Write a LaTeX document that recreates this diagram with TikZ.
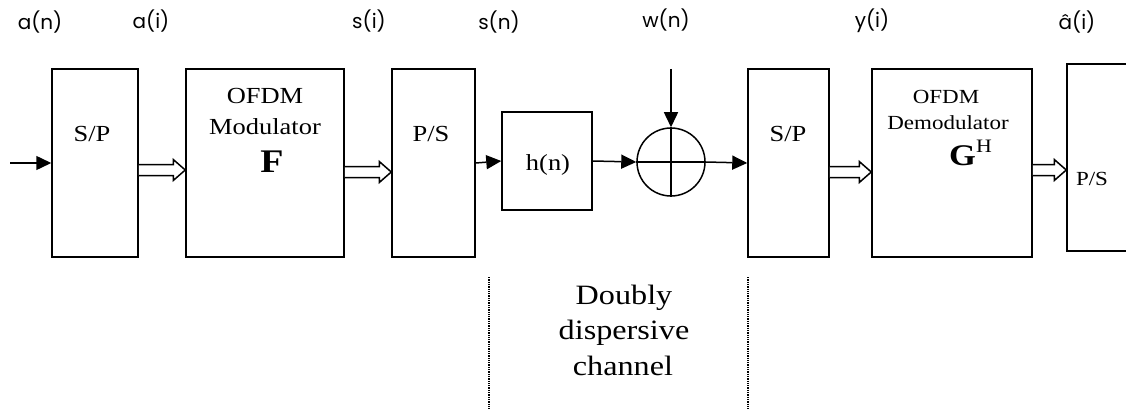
\documentclass[tikz,border=0pt]{standalone}
\usepackage{fontspec}
\setmainfont{Liberation Serif}[FakeStretch=1.15]
\newfontfamily\labfont{Poppins}
\usetikzlibrary{arrows.meta,calc}
\tikzset{
  blk/.style={draw, line width=1.5pt, rectangle, inner sep=0pt},
  sig/.style={line width=1.5pt, -{Triangle[length=15pt,width=14pt]}},
  lab/.style={font=\labfont\fontsize{20}{24}\selectfont, anchor=base, inner sep=0pt},
  txt/.style={font=\fontsize{23}{28}\selectfont, anchor=base, inner sep=0pt},
  stxt/.style={font=\fontsize{20}{24}\selectfont, anchor=base, inner sep=0pt},
  btxt/.style={font=\fontsize{28}{34}\selectfont, anchor=base, inner sep=0pt},
  sep/.style={line width=1.3pt, densely dotted},
}
\newcommand\hollowarr[2]{%
  \draw[line width=1.5pt, fill=white] let \p1=(#1), \p2=(#2) in
    (\x1,\y1+5.5pt) -- (\x2-12pt,\y1+5.5pt) -- (\x2-12pt,\y1+10.5pt) -- (\x2,\y1)
    -- (\x2-12pt,\y1-10.5pt) -- (\x2-12pt,\y1-5.5pt) -- (\x1,\y1-5.5pt);}
\begin{document}
\begin{tikzpicture}[x=1pt,y=-1pt]
\useasboundingbox (0,0) rectangle (1126,409);

% blocks
\node[blk, minimum width=86pt, minimum height=188pt] (sp1) at (95,163) {};
\node[blk, minimum width=158pt, minimum height=188pt] (mod) at (265,163) {};
\node[blk, minimum width=83pt, minimum height=188pt] (ps1) at (433.5,163) {};
\node[blk, minimum width=90pt, minimum height=98pt] (hn) at (547,161) {};
\node[draw, line width=1.5pt, circle, minimum size=68pt, inner sep=0pt] (add) at (671,162) {};
\node[blk, minimum width=81pt, minimum height=188pt] (sp2) at (788.5,163) {};
\node[blk, minimum width=160pt, minimum height=188pt] (dem) at (952,163) {};
\begin{scope}
\clip (0,0) rectangle (1126,409);
\node[blk, minimum width=73pt, minimum height=187pt] (ps3) at (1103.5,157.5) {};
\end{scope}

% adder cross
\draw[line width=1.5pt] (add.north) -- (add.south);
\draw[line width=1.5pt] (add.west) -- (add.east);

% block texts
\node[txt] (tsp1) at (92,142) {S/P};
\node[txt] (tmod1) at (265,103) {OFDM};
\node[txt] (tmod2) at (265,135) {Modulator};
\node[anchor=base, inner sep=0pt, font=\fontsize{33}{36}\selectfont\bfseries] (tF) at (272,172) {F};
\node[txt] (tps1) at (431,141) {P/S};
\node[txt] (thn) at (548,170) {h(n)};
\node[txt] (tsp2) at (788,141) {S/P};
\node[stxt] (tdem1) at (946,103) {OFDM};
\node[stxt] (tdem2) at (948,129) {Demodulator};
\node[anchor=base west, inner sep=0pt] (tG) at (949,165)
  {\fontsize{30}{32}\selectfont\bfseries G\raisebox{13pt}{\fontsize{19}{20}\selectfont\mdseries H}};
\node[stxt] (tps3) at (1092,185) {P/S};

% channel label
\node[btxt] (ch1) at (624,304) {Doubly};
\node[btxt] (ch2) at (624,339) {dispersive};
\node[btxt] (ch3) at (623,375) {channel};

% top labels
\node[lab] (la) at (40,30) {a(n)};
\node[lab] (lb) at (151,29) {a(i)};
\node[lab] (lc) at (369,29) {s(i)};
\node[lab] (ld) at (499,30) {s(n)};
\node[lab] (le) at (666,28) {w(n)};
\node[lab] (lf) at (872,28) {y(i)};
\node[lab] (lg) at (1077,30) {\^{a}(i)};

% connectors
\coordinate (in) at (10,163);
\coordinate (wn) at (671,69);
\draw[sig] (in) -- (sp1.west);
\draw[sig] (ps1.east) -- (hn.west);
\draw[sig] (hn.east) -- (add.west);
\draw[sig] (add.east) -- (sp2.west);
\draw[sig] (wn) -- (add.north);
\hollowarr{[yshift=-7pt]sp1.east}{mod.west}
\hollowarr{[yshift=-9pt]mod.east}{ps1.west}
\hollowarr{[yshift=-9pt]sp2.east}{dem.west}
\hollowarr{[yshift=-7pt]dem.east}{ps3.west}

% channel boundaries
\coordinate (d1t) at (489,277);
\coordinate (d1b) at (489,409);
\coordinate (d2t) at (748,277);
\coordinate (d2b) at (748,409);
\draw[sep] (d1t) -- (d1b);
\draw[sep] (d2t) -- (d2b);
\end{tikzpicture}
\end{document}
